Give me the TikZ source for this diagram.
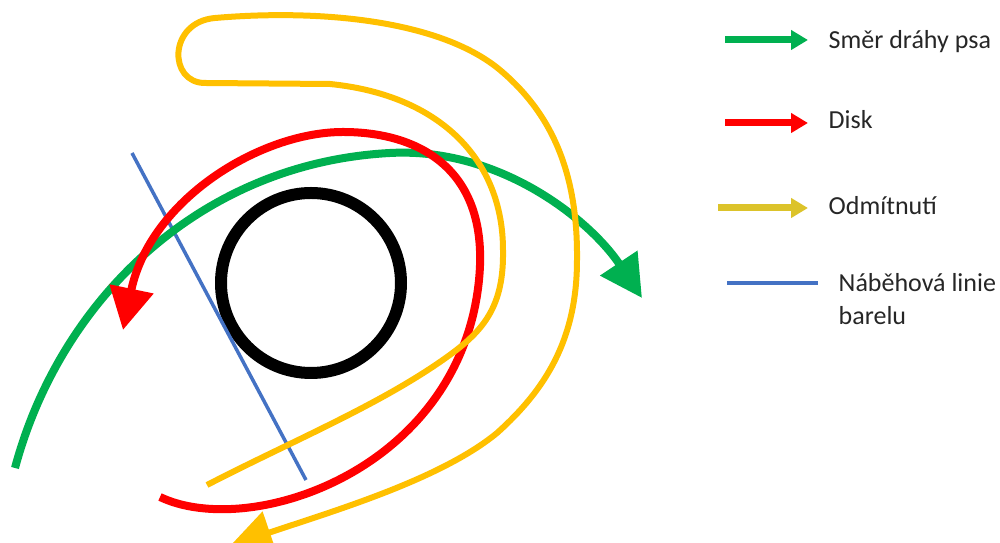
\documentclass[tikz,border=0pt]{standalone}
\usepackage{fontspec}
\setmainfont{Carlito}
\usepackage{tikz}
\usetikzlibrary{arrows.meta}
\definecolor{PathGreen}{HTML}{00B050}
\definecolor{DiscRed}{HTML}{FF0000}
\definecolor{RejectGold}{HTML}{FFC000}
\definecolor{KeyGold}{HTML}{DCC32A}
\definecolor{BarrelBlue}{HTML}{4472C4}
\definecolor{LabelGray}{HTML}{262626}

\begin{document}
\begin{tikzpicture}[x=0.1mm, y=-0.1mm,
    bigtip/.style={-{Triangle[length=4.2mm, width=4.3mm]}},
    keytip/.style={-{Triangle[length=1.7mm, width=1.9mm]}, line width=0.7mm},
    keytext/.style={anchor=base west, inner sep=0pt, text=LabelGray,
      font=\fontsize{7.4}{10}\selectfont}]
  \useasboundingbox (0,0) rectangle (1000,543);

  % barel a naběhová linie
  \node[circle, draw=black, line width=1.2mm, minimum size=18mm] (barrel) at (311,283) {};
  \coordinate (lineTop) at (132,153);
  \coordinate (lineBot) at (306,480);
  \draw[BarrelBlue, line width=0.35mm] (lineTop) -- (lineBot);

  % dráha psa
  \draw[PathGreen, line width=0.8mm, bigtip] (15,468)
    .. controls (60,300) and (200,163) .. (390,153)
    .. controls (500,147) and (590,220) .. (642,298);

  % disk
  \draw[DiscRed, line width=0.8mm, bigtip] (160,497)
    .. controls (250,540) and (460,470) .. (479,280)
    .. controls (490,170) and (420,132) .. (343,132)
    .. controls (260,132) and (150,200) .. (123,330);

  % odmítnutí
  \draw[RejectGold, line width=0.6mm, bigtip] (207,485)
    .. controls (290,442) and (380,405) .. (447,357)
    .. controls (485,330) and (504,305) .. (503,250)
    .. controls (503,160) and (440,95) .. (330,84)
    -- (205,83)
    .. controls (168,83) and (168,22) .. (215,18)
    .. controls (320,9) and (440,20) .. (500,70)
    .. controls (550,112) and (578,170) .. (577,260)
    .. controls (577,340) and (545,390) .. (497,433)
    .. controls (440,480) and (330,512) .. (230,546);

  % legenda
  \coordinate (keyGreenA) at (725,40);
  \coordinate (keyGreenB) at (808,40);
  \draw[keytip, PathGreen] (keyGreenA) -- (keyGreenB);
  \node[keytext] (keyGreen) at (828,49) {Směr dráhy psa};

  \coordinate (keyRedA) at (725,123);
  \coordinate (keyRedB) at (808,123);
  \draw[keytip, DiscRed] (keyRedA) -- (keyRedB);
  \node[keytext] (keyRed) at (828,129) {Disk};

  \coordinate (keyGoldA) at (718,208);
  \coordinate (keyGoldB) at (808,208);
  \draw[keytip, KeyGold] (keyGoldA) -- (keyGoldB);
  \node[keytext] (keyGold) at (828,215) {Odmítnutí};

  \coordinate (keyBlueA) at (727,283);
  \coordinate (keyBlueB) at (818,283);
  \draw[BarrelBlue, line width=0.4mm] (keyBlueA) -- (keyBlueB);
  \node[keytext] (keyBlue) at (838,292) {Náběhová linie};
  \node[keytext] (keyBlue2) at (838,325) {barelu};
\end{tikzpicture}
\end{document}
